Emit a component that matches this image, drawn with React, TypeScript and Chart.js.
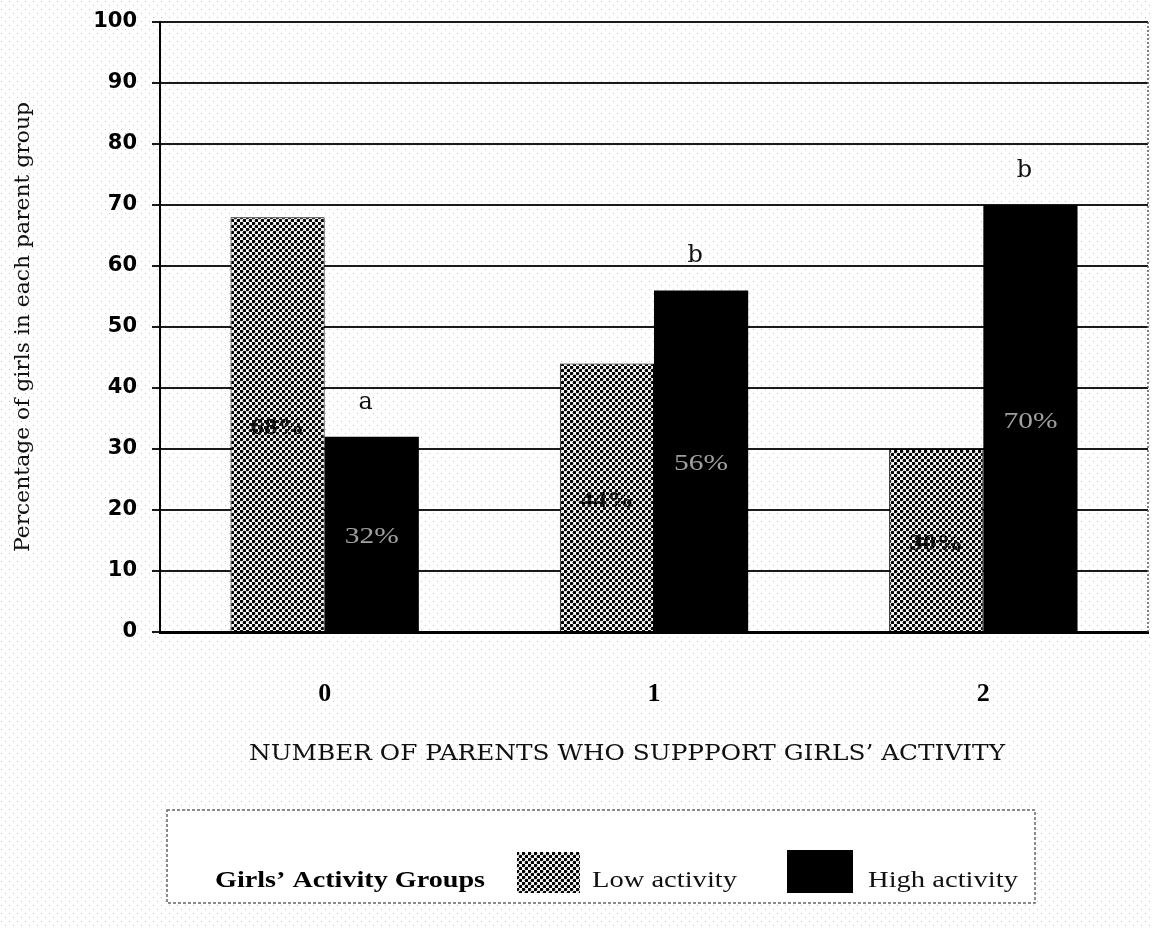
import React, { useEffect, useRef } from "react";
import { Chart, registerables } from "chart.js";

Chart.register(...registerables);

// ---- data ----
const categories = ["0", "1", "2"];
const seriesNames = ["Low activity", "High activity"];
const lowActivity = [68, 44, 30];
const highActivity = [32, 56, 70];
const highLetters = ["a", "b", "b"];
const yMin = 0;
const yMax = 100;
const yStep = 10;
const legendTitle = "Girls\u2019 Activity Groups";
const xTitle = "NUMBER OF PARENTS WHO SUPPPORT GIRLS\u2019 ACTIVITY";
const yTitle = "Percentage of girls in each parent group";

const W = 1153;
const H = 929;

function makeDots(): CanvasPattern | string {
  const c = document.createElement("canvas");
  c.width = 6;
  c.height = 6;
  const g = c.getContext("2d");
  if (!g) return "#666";
  g.fillStyle = "#fff";
  g.fillRect(0, 0, 6, 6);
  g.fillStyle = "#000";
  for (const [x, y] of [
    [1.5, 1.5],
    [4.5, 4.5],
  ]) {
    g.beginPath();
    g.arc(x, y, 1.8, 0, Math.PI * 2);
    g.fill();
  }
  return g.createPattern(c, "repeat") || "#666";
}

function makeStipple(): CanvasPattern | string {
  const c = document.createElement("canvas");
  c.width = 8;
  c.height = 8;
  const g = c.getContext("2d");
  if (!g) return "#fff";
  g.fillStyle = "#fff";
  g.fillRect(0, 0, 8, 8);
  g.fillStyle = "#c4c4c4";
  g.fillRect(1, 1, 1, 1);
  g.fillRect(5, 5, 1, 1);
  return g.createPattern(c, "repeat") || "#fff";
}

function drawFit(
  ctx: CanvasRenderingContext2D,
  text: string,
  x: number,
  y: number,
  font: string,
  width: number,
  align: CanvasTextAlign,
  color: string
) {
  ctx.save();
  ctx.font = font;
  const w = ctx.measureText(text).width || 1;
  const sx = width / w;
  ctx.translate(x, y);
  ctx.scale(sx, 1);
  ctx.textAlign = align;
  ctx.textBaseline = "alphabetic";
  ctx.fillStyle = color;
  ctx.fillText(text, 0, 0);
  ctx.restore();
}

export default function App() {
  const ref = useRef<HTMLCanvasElement | null>(null);

  useEffect(() => {
    const canvas = ref.current;
    if (!canvas) return;
    const dots = makeDots();
    const stipple = makeStipple();

    const decor = {
      id: "decor",
      beforeDraw(chart: any) {
        const ctx = chart.ctx as CanvasRenderingContext2D;
        ctx.save();
        ctx.fillStyle = stipple as any;
        ctx.fillRect(0, 0, chart.width, chart.height);
        ctx.restore();
      },
      afterDatasetsDraw(chart: any) {
        const ctx = chart.ctx as CanvasRenderingContext2D;
        const ys = chart.scales.y;
        const m0 = chart.getDatasetMeta(0);
        const m1 = chart.getDatasetMeta(1);
        lowActivity.forEach((v, i) => {
          const bar = m0.data[i];
          const cy = ys.getPixelForValue(v / 2);
          drawFit(ctx, `${v}%`, bar.x, cy + 9, 'bold 24px "Liberation Serif"', 54, "center", "#111");
        });
        highActivity.forEach((v, i) => {
          const bar = m1.data[i];
          const cy = ys.getPixelForValue(v / 2);
          drawFit(ctx, `${v}%`, bar.x, cy + 9, '24px "Liberation Serif"', 54, "center", "#a0a0a0");
          const top = ys.getPixelForValue(v);
          ctx.save();
          ctx.font = '24px "DejaVu Serif"';
          ctx.fillStyle = "#111";
          ctx.textAlign = "center";
          ctx.textBaseline = "alphabetic";
          ctx.fillText(highLetters[i], bar.x - 6, top - 28);
          ctx.restore();
        });
      },
      afterDraw(chart: any) {
        const ctx = chart.ctx as CanvasRenderingContext2D;
        const a = chart.chartArea;
        // right dashed border
        ctx.save();
        ctx.strokeStyle = "#555";
        ctx.lineWidth = 1.5;
        ctx.setLineDash([2, 2]);
        ctx.beginPath();
        ctx.moveTo(a.right, a.top);
        ctx.lineTo(a.right, a.bottom);
        ctx.stroke();
        ctx.restore();

        // y title
        ctx.save();
        ctx.translate(29, (a.top + a.bottom) / 2);
        ctx.rotate(-Math.PI / 2);
        drawFit(ctx, yTitle, 0, 0, '20px "DejaVu Serif"', 450, "center", "#111");
        ctx.restore();

        // x title
        drawFit(ctx, xTitle, 627, 760, '22px "DejaVu Serif"', 756, "center", "#111");

        // legend box
        ctx.save();
        ctx.fillStyle = "#fff";
        ctx.fillRect(167, 810, 868, 93);
        ctx.strokeStyle = "#666";
        ctx.lineWidth = 1.5;
        ctx.setLineDash([3, 2]);
        ctx.strokeRect(167, 810, 868, 93);
        ctx.restore();

        drawFit(ctx, legendTitle, 215, 887, 'bold 23px "Liberation Serif"', 270, "left", "#000");
        const ds = chart.data.datasets;
        ctx.save();
        ctx.fillStyle = ds[0].backgroundColor;
        ctx.fillRect(517, 852, 63, 41);
        ctx.fillStyle = ds[1].backgroundColor;
        ctx.fillRect(787, 850, 66, 43);
        ctx.restore();
        drawFit(ctx, seriesNames[0], 592, 887, '23px "Liberation Serif"', 145, "left", "#111");
        drawFit(ctx, seriesNames[1], 868, 887, '23px "Liberation Serif"', 150, "left", "#111");
      },
    };

    const chart = new Chart(canvas, {
      type: "bar",
      data: {
        labels: categories,
        datasets: [
          {
            label: seriesNames[0],
            data: lowActivity,
            backgroundColor: dots as any,
            borderColor: "#000",
            borderWidth: 1,
            barPercentage: 1,
            categoryPercentage: 0.572,
          },
          {
            label: seriesNames[1],
            data: highActivity,
            backgroundColor: "#000",
            borderColor: "#000",
            borderWidth: 0,
            barPercentage: 1,
            categoryPercentage: 0.572,
          },
        ],
      },
      options: {
        responsive: false,
        animation: false,
        layout: { padding: { top: 22, right: 5, left: 0, bottom: 0 } },
        plugins: {
          legend: { display: false },
          tooltip: { enabled: false },
          title: { display: false },
        },
        scales: {
          x: {
            grid: { display: false, drawTicks: false },
            border: { display: true, color: "#000", width: 3 },
            ticks: {
              color: "#000",
              padding: 47,
              font: { family: "Liberation Serif", weight: "bold", size: 26 },
            },
            afterFit(scale: any) {
              scale.height = 297;
              scale.paddingLeft = 0;
              scale.paddingRight = 0;
            },
          },
          y: {
            min: yMin,
            max: yMax,
            ticks: {
              stepSize: yStep,
              color: "#000",
              padding: 15,
              font: { family: "DejaVu Sans", weight: "bold", size: 21 },
            },
            grid: {
              color: "#1a1a1a",
              lineWidth: 2,
              tickLength: 8,
              tickColor: "#1a1a1a",
            },
            border: { display: true, color: "#000", width: 2 },
            afterFit(scale: any) {
              scale.width = 160;
              scale.paddingTop = 0;
              scale.paddingBottom = 0;
            },
          },
        },
      },
      plugins: [decor],
    });

    return () => chart.destroy();
  }, []);

  return (
    <div style={{ position: "fixed", left: 0, top: 0, width: W, height: H, background: "#fff" }}>
      <canvas ref={ref} width={W} height={H} style={{ display: "block", width: W, height: H }} />
    </div>
  );
}
